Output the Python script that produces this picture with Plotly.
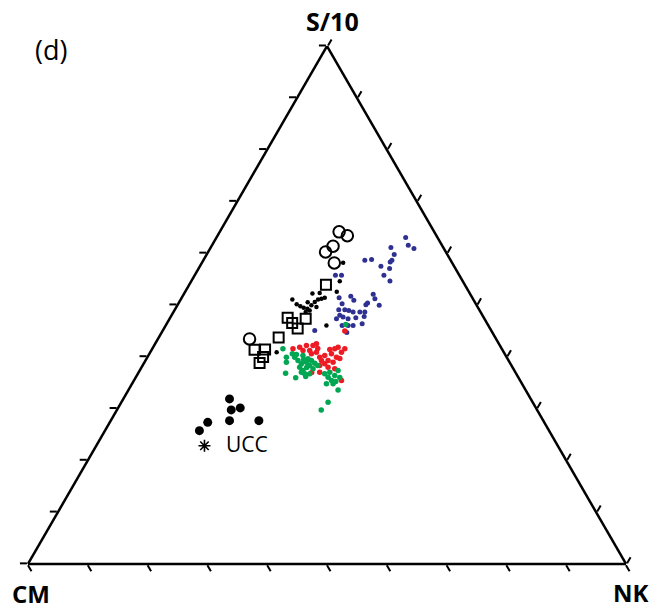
import plotly.graph_objects as go

# Ternary data: S/10 (a), CM (b), NK (c), in percent
circ_S = [64.13, 63.40, 61.36, 60.26, 58.13, 43.46]
circ_CM = [15.91, 14.90, 18.31, 20.11, 19.72, 41.22]
circ_NK = [19.96, 21.70, 20.33, 19.63, 22.15, 15.32]

sq_S = [53.91, 47.56, 46.55, 45.49, 47.37, 43.75, 41.37, 41.43, 39.97, 38.81]
sq_CM = [23.22, 32.80, 32.55, 32.16, 29.88, 36.21, 41.43, 39.64, 40.70, 41.87]
sq_NK = [22.87, 19.64, 20.90, 22.35, 22.75, 20.04, 17.20, 18.93, 19.33, 19.32]

big_S = [31.88, 29.75, 30.14, 27.68, 27.68, 27.35, 25.75]
big_CM = [50.36, 51.14, 49.44, 52.46, 47.55, 56.27, 58.46]
big_NK = [17.76, 19.11, 20.42, 19.86, 24.77, 16.38, 15.79]

ucc_S = [22.84]
ucc_CM = [59.07]
ucc_NK = [18.09]

blk_S = [58.17, 54.59, 52.56, 51.05, 49.75, 49.30, 49.94, 50.58, 51.05, 51.24, 51.43,
         52.21, 52.32, 48.65, 48.97, 49.50, 46.07, 49.61, 40.90, 50.52, 50.14]
blk_CM = [18.22, 20.57, 22.09, 30.27, 29.58, 28.63, 27.64, 26.76, 25.97, 25.31, 24.66,
          26.33, 25.06, 29.24, 28.41, 29.15, 27.06, 26.96, 37.97, 27.97, 30.00]
blk_NK = [23.61, 24.84, 25.35, 18.68, 20.67, 22.07, 22.42, 22.66, 22.98, 23.45, 23.91,
          21.46, 22.62, 22.11, 22.62, 21.35, 26.87, 23.43, 21.13, 21.51, 19.86]

blue_S = [63.05, 61.56, 60.92, 61.11, 59.76, 58.65, 58.32, 58.65, 58.79, 57.49, 57.05,
          55.75, 54.65, 55.75, 55.75, 51.43, 51.68, 50.91, 50.27, 49.11, 48.97, 49.11,
          48.65, 48.65, 50.08, 50.39, 52.07, 51.24, 49.94, 48.65, 47.81, 47.56, 47.37,
          47.68, 47.37, 48.01, 46.07, 46.07, 46.40, 46.07, 45.10, 44.72]
blue_CM = [5.32, 5.63, 5.00, 8.76, 8.88, 9.82, 10.27, 14.35, 13.15, 12.24, 11.01,
           12.61, 12.15, 20.71, 19.70, 22.26, 20.18, 20.06, 22.34, 22.47, 21.87, 23.48,
           21.31, 20.18, 18.46, 18.02, 16.24, 16.37, 16.30, 19.35, 19.88, 21.40, 22.79,
           23.47, 24.73, 23.86, 22.60, 23.44, 20.92, 24.44, 29.50, 24.33]
blue_NK = [31.63, 32.81, 34.08, 30.13, 31.36, 31.53, 31.41, 27.00, 28.06, 30.27, 31.94,
           31.64, 33.20, 23.54, 24.55, 26.31, 28.14, 29.03, 27.39, 28.42, 29.16, 27.41,
           30.04, 31.17, 31.46, 31.59, 31.69, 32.39, 33.76, 32.00, 32.31, 31.04, 29.84,
           28.85, 27.90, 28.13, 31.33, 30.49, 32.68, 29.49, 25.40, 30.95]

red_S = [41.56, 41.87, 41.23, 42.20, 40.90, 39.93, 40.26, 39.30, 40.59, 41.56, 41.87,
         40.90, 39.93, 38.97, 38.33, 38.66, 42.53, 42.20, 41.56, 41.23, 37.03, 37.69,
         35.42, 40.59, 38.00, 39.30, 41.43, 41.62, 39.68, 36.97, 44.97]
red_CM = [34.91, 33.63, 32.28, 31.24, 31.32, 31.25, 30.25, 30.17, 28.96, 27.92, 27.21,
          27.13, 28.45, 29.50, 32.05, 31.05, 30.50, 32.34, 26.24, 33.40, 32.70, 29.86,
          29.87, 32.31, 30.82, 31.28, 28.82, 30.74, 28.02, 34.07, 24.54]
red_NK = [23.53, 24.50, 26.49, 26.56, 27.78, 28.82, 29.49, 30.53, 30.45, 30.52, 30.92,
          31.97, 31.62, 31.53, 29.62, 30.29, 26.97, 25.46, 32.20, 25.37, 30.27, 32.45,
          34.71, 27.10, 31.18, 29.42, 29.75, 27.64, 32.30, 28.96, 30.49]

green_S = [41.56, 38.97, 36.84, 35.95, 39.93, 39.30, 38.66, 38.00, 37.36, 38.97, 38.33,
           39.62, 39.30, 36.72, 36.72, 37.69, 37.03, 38.77, 40.46, 40.59, 40.26, 36.72,
           36.06, 35.42, 34.79, 36.39, 37.36, 37.03, 34.79, 33.62, 31.22, 29.75, 39.93,
           36.20, 38.33, 35.23, 36.00, 37.94, 39.49, 46.26]
green_CM = [36.59, 37.31, 38.50, 37.26, 35.44, 35.20, 34.95, 35.57, 35.34, 33.96, 33.73,
            33.37, 32.96, 35.37, 34.53, 33.49, 35.77, 32.67, 34.89, 35.50, 33.89, 32.02,
            31.79, 31.54, 32.70, 30.51, 29.47, 31.02, 31.59, 31.34, 34.21, 36.09, 36.83,
            35.46, 32.39, 30.92, 29.86, 34.43, 34.15, 23.73]
green_NK = [21.85, 23.72, 24.66, 26.79, 24.63, 25.50, 26.39, 26.43, 27.30, 27.07, 27.94,
            27.01, 27.74, 27.91, 28.75, 28.82, 27.20, 28.56, 24.65, 23.91, 25.85, 31.26,
            32.15, 33.04, 32.51, 33.10, 33.17, 31.95, 33.62, 35.04, 34.57, 34.16, 23.24,
            28.34, 29.28, 33.85, 34.14, 27.63, 26.36, 30.01]

axis_titles = ["S/10", "CM", "NK"]
panel_label = "(d)"
ucc_label = "UCC"

fig = go.Figure()

def add(S, CM, NK, **marker):
    fig.add_trace(go.Scatterternary(a=S, b=CM, c=NK, mode="markers",
                                    marker=marker, hoverinfo="skip"))

add(blue_S, blue_CM, blue_NK, size=5, color="#2E3192")
add(red_S, red_CM, red_NK, size=5.5, color="#ED1C24")
add(green_S, green_CM, green_NK, size=5.5, color="#00A651")
add(blk_S, blk_CM, blk_NK, size=4.5, color="black")
add(big_S, big_CM, big_NK, size=9, color="black")
add(sq_S, sq_CM, sq_NK, size=10, symbol="square-open", color="black",
    line=dict(width=2, color="black"))
add(circ_S, circ_CM, circ_NK, size=11.5, symbol="circle-open", color="black",
    line=dict(width=2, color="black"))
add(ucc_S, ucc_CM, ucc_NK, size=10, symbol="asterisk-open", color="black",
    line=dict(width=1.6, color="black"))

W, H = 653, 611

def axis():
    return dict(showticklabels=False, ticks="outside", ticklen=7, tickwidth=1.5,
                tickcolor="black", linecolor="black", linewidth=2.5,
                showgrid=False, dtick=10, title=dict(text=""))

fig.update_layout(
    width=W, height=H, showlegend=False,
    margin=dict(l=0, r=0, t=0, b=0),
    paper_bgcolor="white",
    ternary=dict(sum=100, bgcolor="white",
                 domain=dict(x=[28 / W, 626 / W],
                             y=[(H - 564) / H, (H - 46.1) / H]),
                 aaxis=axis(), baxis=axis(), caxis=axis()),
    font=dict(family="Open Sans", color="black"),
)

def ann(text, px, py, size, bold=False, xanchor="center"):
    fig.add_annotation(text=f"<b>{text}</b>" if bold else text,
                       x=px / W, y=1 - py / H,
                       xref="paper", yref="paper", showarrow=False,
                       font=dict(size=size, family="Open Sans", color="black"),
                       xanchor=xanchor, yanchor="middle")

ann(axis_titles[0], 332, 21, 25, bold=True)
ann(axis_titles[1], 31, 593, 24, bold=True)
ann(axis_titles[2], 631, 592, 24, bold=True)
ann(panel_label, 51, 49, 27)
ann(ucc_label, 247, 444, 21)

fig.write_html("out.html", config={"displayModeBar": False},
               post_script="document.body.style.margin='0px';")
